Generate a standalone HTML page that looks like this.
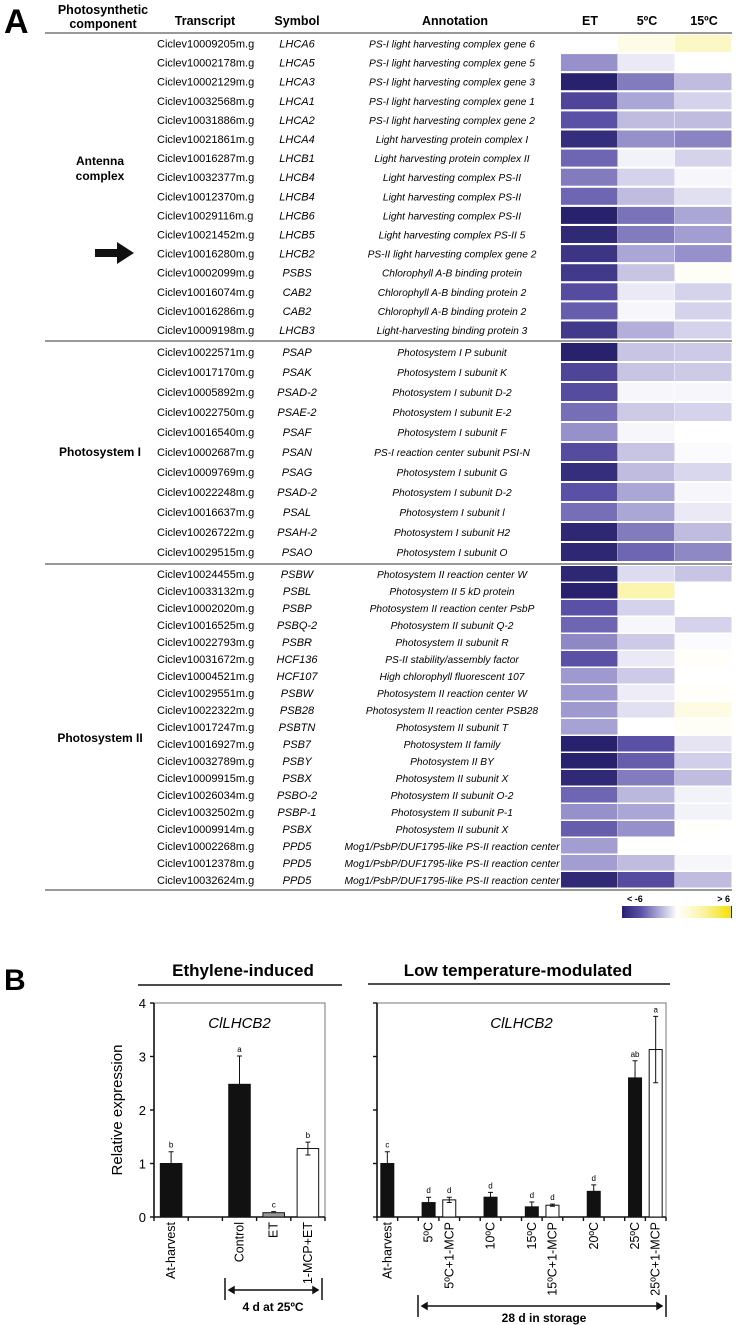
<!DOCTYPE html>
<html><head><meta charset="utf-8"><style>
body{margin:0;background:#fff;}
svg{display:block;font-family:"Liberation Sans",Arial,sans-serif;}
</style></head><body>
<svg id="fig" width="736" height="1325" viewBox="0 0 736 1325">
<text x="4" y="33" font-size="34" font-weight="bold">A</text>
<g font-size="12.5" font-weight="bold" text-anchor="middle">
<text x="103" y="14">Photosynthetic</text>
<text x="103" y="28">component</text>
<text x="205" y="25">Transcript</text>
<text x="297" y="25">Symbol</text>
<text x="455" y="25">Annotation</text>
<text x="590" y="25">ET</text>
<text x="647" y="25">5ºC</text>
<text x="704" y="25">15ºC</text>
</g>
<line x1="45" y1="33" x2="732" y2="33" stroke="#777" stroke-width="1.5"/>
<line x1="45" y1="341" x2="732" y2="341" stroke="#333" stroke-width="1"/>
<line x1="45" y1="564" x2="732" y2="564" stroke="#333" stroke-width="1"/>
<line x1="45" y1="890" x2="732" y2="890" stroke="#333" stroke-width="1"/>
<g font-size="12" font-weight="bold" text-anchor="middle">
<text x="100" y="165">Antenna</text>
<text x="100" y="180">complex</text>
<text x="100" y="456">Photosystem I</text>
<text x="100" y="742">Photosystem II</text>
</g>
<path d="M95,249 h22 v-7 l17,11 l-17,11 v-7 h-22 z" fill="#111"/>
<g id="rows"></g>
<defs><linearGradient id="cg" x1="0" x2="1"><stop offset="0" stop-color="#28226e"/><stop offset="0.17" stop-color="#5a51a6"/><stop offset="0.33" stop-color="#aaa6d6"/><stop offset="0.5" stop-color="#ffffff"/><stop offset="0.75" stop-color="#faf3a0"/><stop offset="1" stop-color="#f5e000"/></linearGradient></defs>
<rect x="622" y="906" width="110" height="12" fill="url(#cg)"/>
<line x1="731.5" y1="906" x2="731.5" y2="918" stroke="#333"/>
<text x="627" y="902" font-size="9" font-weight="bold">&lt; -6</text>
<text x="730" y="902" font-size="9" font-weight="bold" text-anchor="end">&gt; 6</text>
<text x="4" y="990" font-size="30" font-weight="bold">B</text>
<g id="charts"></g>
</svg>
<script>
const NS="http://www.w3.org/2000/svg";
function mk(p,t,a){const e=document.createElementNS(NS,t);for(const k in a)e.setAttribute(k,a[k]);p.appendChild(e);return e;}
// ---- Heatmap data ----
const transcripts=["Ciclev10009205m.g","Ciclev10002178m.g","Ciclev10002129m.g","Ciclev10032568m.g","Ciclev10031886m.g","Ciclev10021861m.g","Ciclev10016287m.g","Ciclev10032377m.g","Ciclev10012370m.g","Ciclev10029116m.g","Ciclev10021452m.g","Ciclev10016280m.g","Ciclev10002099m.g","Ciclev10016074m.g","Ciclev10016286m.g","Ciclev10009198m.g",
"Ciclev10022571m.g","Ciclev10017170m.g","Ciclev10005892m.g","Ciclev10022750m.g","Ciclev10016540m.g","Ciclev10002687m.g","Ciclev10009769m.g","Ciclev10022248m.g","Ciclev10016637m.g","Ciclev10026722m.g","Ciclev10029515m.g",
"Ciclev10024455m.g","Ciclev10033132m.g","Ciclev10002020m.g","Ciclev10016525m.g","Ciclev10022793m.g","Ciclev10031672m.g","Ciclev10004521m.g","Ciclev10029551m.g","Ciclev10022322m.g","Ciclev10017247m.g","Ciclev10016927m.g","Ciclev10032789m.g","Ciclev10009915m.g","Ciclev10026034m.g","Ciclev10032502m.g","Ciclev10009914m.g","Ciclev10002268m.g","Ciclev10012378m.g","Ciclev10032624m.g"];
const symbols=["LHCA6","LHCA5","LHCA3","LHCA1","LHCA2","LHCA4","LHCB1","LHCB4","LHCB4","LHCB6","LHCB5","LHCB2","PSBS","CAB2","CAB2","LHCB3",
"PSAP","PSAK","PSAD-2","PSAE-2","PSAF","PSAN","PSAG","PSAD-2","PSAL","PSAH-2","PSAO",
"PSBW","PSBL","PSBP","PSBQ-2","PSBR","HCF136","HCF107","PSBW","PSB28","PSBTN","PSB7","PSBY","PSBX","PSBO-2","PSBP-1","PSBX","PPD5","PPD5","PPD5"];
const annotations=["PS-I light harvesting complex gene 6","PS-I light harvesting complex gene 5","PS-I light harvesting complex gene 3","PS-I light harvesting complex gene 1","PS-I light harvesting complex gene 2","Light harvesting protein complex I","Light harvesting protein complex II","Light harvesting complex PS-II","Light harvesting complex PS-II","Light harvesting complex PS-II","Light harvesting complex PS-II 5","PS-II light harvesting complex gene 2","Chlorophyll A-B binding protein","Chlorophyll A-B binding protein 2","Chlorophyll A-B binding protein 2","Light-harvesting binding protein 3",
"Photosystem I P subunit","Photosystem I subunit K","Photosystem I subunit D-2","Photosystem I subunit E-2","Photosystem I subunit F","PS-I reaction center subunit PSI-N","Photosystem I subunit G","Photosystem I subunit D-2","Photosystem I subunit l","Photosystem I subunit H2","Photosystem I subunit O",
"Photosystem II reaction center W","Photosystem II 5 kD protein","Photosystem II reaction center PsbP","Photosystem II subunit Q-2","Photosystem II subunit R","PS-II stability/assembly factor","High chlorophyll fluorescent 107","Photosystem II reaction center W","Photosystem II reaction center PSB28","Photosystem II subunit T","Photosystem II family","Photosystem II BY","Photosystem II subunit X","Photosystem II subunit O-2","Photosystem II subunit P-1","Photosystem II subunit X","Mog1/PsbP/DUF1795-like PS-II reaction center","Mog1/PsbP/DUF1795-like PS-II reaction center","Mog1/PsbP/DUF1795-like PS-II reaction center"];
const valET=[0,-2.5,-6,-4.5,-4,-5.5,-3.5,-3,-3.5,-6,-5.7,-5.2,-5,-4.2,-3.7,-5,
-6,-4.5,-4.2,-3.3,-2.5,-4.2,-5.5,-4,-3.3,-5.8,-5.8,
-5.8,-6,-4,-3.5,-2.7,-4,-2.3,-2.3,-2.3,-2.1,-6,-6,-5.7,-3.5,-2.5,-3.7,-2.2,-2.2,-5.7];
const val5C=[0.8,-0.5,-3,-2,-1.5,-2.5,-0.3,-1,-1.5,-3.2,-3,-2,-1.3,-0.5,-0.2,-1.8,
-1.3,-1.3,-0.2,-1.2,-0.2,-1.3,-1.5,-2,-2,-3,-3.5,
-0.8,2.5,-1,-0.2,-1.2,-0.5,-1.2,-0.4,-0.7,0,-4,-3.7,-3,-1.6,-2,-2.5,0.1,-1.5,-4.2];
const val15C=[1.8,0,-1.5,-1,-1.5,-2.8,-1,-0.2,-0.7,-2,-2.2,-2.5,0.3,-1,-1,-1,
-1.2,-1.2,-0.2,-1,0,-0.1,-0.9,-0.2,-0.5,-1.5,-2.7,
-1.3,0,0,-1,-0.1,0.2,0,0.2,0.9,0.3,-0.6,-1.1,-1.5,-0.3,-0.3,0.1,0,-0.2,-1.5];
const stops=[[-6,[40,34,110]],[-4,[90,81,166]],[-2,[170,166,214]],[0,[255,255,255]],[3,[250,243,160]],[6,[245,224,0]]];
function colorOf(v){v=Math.max(-6,Math.min(6,v));for(let i=0;i<stops.length-1;i++){const[a,ca]=stops[i],[b,cb]=stops[i+1];if(v<=b){const t=(v-a)/(b-a);return"rgb("+ca.map((c,j)=>Math.round(c+(cb[j]-c)*t)).join(",")+")";}}return"rgb(245,224,0)";}
function rowGeom(i){if(i<16)return[35+19.1*i,17];if(i<27)return[343+20*(i-16),18];return[566+17*(i-27),15.5];}
const rowsG=document.getElementById('rows');
const colX=[561,618,675],colW=56.5,cols=[valET,val5C,val15C],colNames=['et','5c','15c'];
for(let i=0;i<transcripts.length;i++){
 const[y,h]=rowGeom(i),cy=y+h/2+4;
 const g=mk(rowsG,'g',{});
 
 
 let t=mk(g,'text',{x:157,y:cy,'font-size':11});t.textContent=transcripts[i];
 
 
 t=mk(g,'text',{x:297,y:cy,'font-size':11,'font-style':'italic','text-anchor':'middle'});t.textContent=symbols[i];
 
 
 const ann={x:452,y:cy,'font-size':10.2,'font-style':'italic','text-anchor':'middle'};
 if(annotations[i].length>40){ann.textLength=215;ann.lengthAdjust='spacingAndGlyphs';}
 t=mk(g,'text',ann);t.textContent=annotations[i];
 
 
 for(let c=0;c<3;c++){const r=mk(g,'rect',{x:colX[c],y:y,width:colW,height:h,fill:colorOf(cols[c][i])});
  
  }
}
// ---- Bar charts ----
const leftCats=["At-harvest","","Control","ET","1-MCP+ET"];
const leftVals=[1.0,null,2.48,0.08,1.28];
const leftErr=[0.22,null,0.53,0.02,0.12];
const leftLetters=["b","","a","c","b"];
const leftFill=["#111","","#111","#999","#fff"];
const rightCats=["At-harvest","","5ºC","5ºC+1-MCP","","10ºC","","15ºC","15ºC+1-MCP","","20ºC","","25ºC","25ºC+1-MCP"];
const rightVals=[1.0,null,0.27,0.32,null,0.37,null,0.19,0.22,null,0.48,null,2.6,3.13];
const rightErr=[0.22,null,0.1,0.05,null,0.09,null,0.09,0.02,null,0.12,null,0.32,0.62];
const rightLetters=["c","","d","d","","d","","d","d","","d","","ab","a"];
const rightFill=["#111","","#111","#fff","","#111","","#111","#fff","","#111","","#111","#fff"];
const yTicks=[0,1,2,3,4];
const charts=document.getElementById('charts');
function drawChart(name,x0,x1,cats,vals,errs,letters,fills,showLabels){
 const top=1003,bot=1217,yMax=4;
 const ys=v=>bot-(v/yMax)*(bot-top);
 const n=cats.length,sw=(x1-x0)/n;
 const g=mk(charts,'g',{});
 
 
 const box=mk(g,'rect',{x:x0,y:top,width:x1-x0,height:bot-top,fill:'none',stroke:'#777','stroke-width':1});
 
 
 const ax=mk(g,'path',{d:`M${x0},${top}V${bot}H${x1}`,fill:'none',stroke:'#111','stroke-width':1.6});
 
 
 yTicks.forEach(v=>{const tk=mk(g,'line',{x1:x0-4,x2:x0,y1:ys(v),y2:ys(v),stroke:'#111','stroke-width':1.4});
  
  
  if(showLabels){const t=mk(g,'text',{x:x0-8,y:ys(v)+5,'font-size':13,'text-anchor':'end'});t.textContent=v;
   
   }});
 for(let i=0;i<=n;i++){const tk=mk(g,'line',{x1:x0+i*sw,x2:x0+i*sw,y1:bot,y2:bot+4,stroke:'#111','stroke-width':1.4});
  
  }
 const bw=sw*0.63;
 for(let i=0;i<n;i++){
  const cx=x0+sw*(i+0.5);
  if(cats[i]){const t=mk(g,'text',{x:0,y:0,'font-size':12.5,'text-anchor':'end',transform:`translate(${cx+4},${bot+5}) rotate(-90)`});t.textContent=cats[i];
   
   }
  if(vals[i]==null)continue;
  const y=ys(vals[i]);
  const b=mk(g,'rect',{x:cx-bw/2,y:y,width:bw,height:bot-y,fill:fills[i],stroke:'#111','stroke-width':1});
  
  
  const yt=ys(vals[i]+errs[i]),yb=fills[i]==='#fff'?ys(vals[i]-errs[i]):y;
  const e=mk(g,'path',{d:`M${cx},${yb}V${yt}M${cx-2.5},${yt}H${cx+2.5}`+(fills[i]==='#fff'?`M${cx-2.5},${yb}H${cx+2.5}`:''),stroke:'#111','stroke-width':1,fill:'none'});
  
  
  const l=mk(g,'text',{x:cx,y:yt-4,'font-size':8,'text-anchor':'middle'});l.textContent=letters[i];
  
  
 }
 const gt=mk(g,'text',{x:(x0+x1)/2,y:1028,'font-size':15,'font-style':'italic','text-anchor':'middle'});gt.textContent='ClLHCB2';
 
 
}
drawChart('chart-ethylene',154,325,leftCats,leftVals,leftErr,leftLetters,leftFill,true);
drawChart('chart-low-temp',377,666,rightCats,rightVals,rightErr,rightLetters,rightFill,false);
</script>
<script>
const s=document.getElementById('fig');
function a(t,at,txt,nm){const e=document.createElementNS("http://www.w3.org/2000/svg",t);for(const k in at)e.setAttribute(k,at[k]);if(txt)e.textContent=txt;


s.appendChild(e);}
a('text',{x:243,y:976,'font-size':17,'font-weight':'bold','text-anchor':'middle'},'Ethylene-induced','title-ethylene-induced');
a('line',{x1:138,x2:342,y1:985,y2:985,stroke:'#111','stroke-width':1.5},'','title-underline-left');
a('text',{x:518,y:976,'font-size':17,'font-weight':'bold','text-anchor':'middle'},'Low temperature-modulated','title-low-temp');
a('line',{x1:368,x2:670,y1:984,y2:984,stroke:'#111','stroke-width':1.5},'','title-underline-right');
a('text',{x:122,y:1110,'font-size':15,'text-anchor':'middle',transform:'rotate(-90 122 1110)'},'Relative expression','y-axis-title');
a('path',{d:'M225,1278V1300M322,1278V1300M229,1290H318M229,1290l5,-3v6zM318,1290l-5,-3v6z',stroke:'#111','stroke-width':1.5,fill:'#111'},'','bracket-4d');
a('text',{x:273,y:1311,'font-size':12,'font-weight':'bold','text-anchor':'middle'},'4 d at 25ºC','bracket-4d-label');
a('path',{d:'M418,1295V1317M666,1295V1317M422,1306H662M422,1306l5,-3v6zM662,1306l-5,-3v6z',stroke:'#111','stroke-width':1.5,fill:'#111'},'','bracket-28d');
a('text',{x:544,y:1322,'font-size':12,'font-weight':'bold','text-anchor':'middle'},'28 d in storage','bracket-28d-label');
</script>
</body></html>
